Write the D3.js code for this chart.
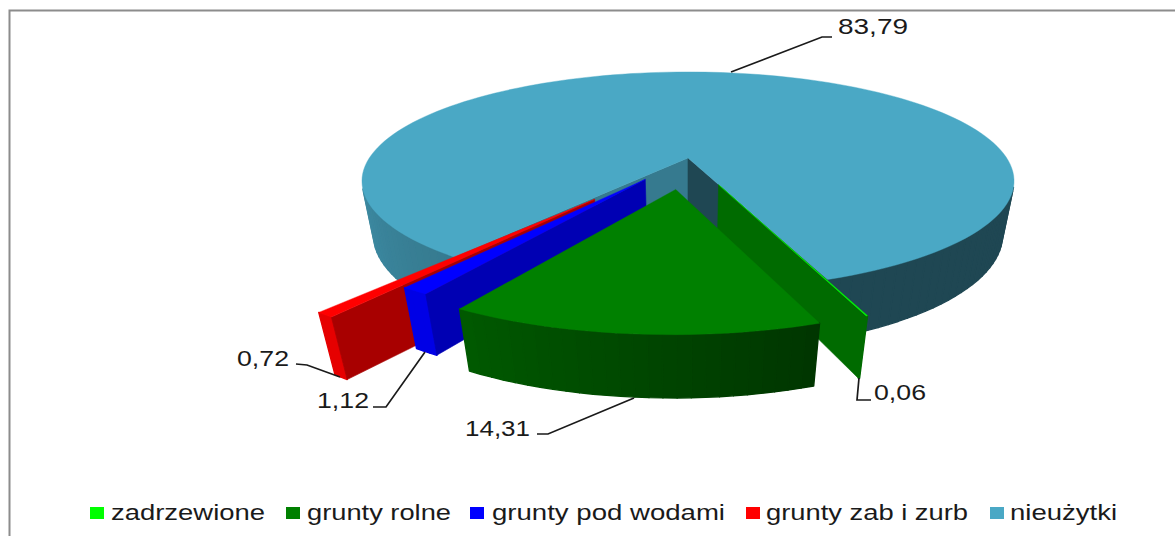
<!DOCTYPE html>
<html><head><meta charset="utf-8">
<script src="https://cdn.jsdelivr.net/npm/d3@7"></script>
<style>html,body{margin:0;padding:0;background:#fff}svg{display:block}text{font-family:"Liberation Sans",Arial,sans-serif;fill:#1a1a1a}</style>
</head><body><svg id="c" width="1175" height="536"></svg>
<script>
// ---- data ----
const categories = ["zadrzewione","grunty rolne","grunty pod wodami","grunty zab i zurb","nieużytki"];
const values = [0.06,14.31,1.12,0.72,83.79];
const valueLabels = ["0,06","14,31","1,12","0,72","83,79"];
const colors = ["#00ff00","#008000","#0000ff","#ff0000","#4aa8c5"];

// ---- layout / style ----
const W=1175,H=536;
const startDeg=159.4;
const explode=[0.26,0.285,0.235,0.455,0];
const radiusV=[0.965,0.965,0.965,0.965,1];
const radiusU=[0.955,0.992,1.0,1.0,1];
const shiftU=[0,-0.0095,0,0,0];
const rimFixed=[null,null,0.9,0.9,null];
const wallFixed=[null,null,0.7,0.66,null];
const drawOrder=[4,0,3,2,1];
const cam={cx:688,cy:158,R:318.7,B:104.2,p:0.211,Hh:55,q:0.035};
const legendLayout=[[90,111,265],[286,307,451],[470,492,725],[746,766,968],[990,1010,1117]];
const labelLayout=[
 {x:874,y:392,w:52,line:[[859,378],[857,400],[871,400]]},
 {x:465,y:428,w:65,line:[[634,398],[548,434],[537,434]]},
 {x:317,y:400,w:52,line:[[425,352],[386,407],[373,407]]},
 {x:237,y:358,w:52,line:[[340,377],[307,365],[296,364]]},
 {x:838,y:26,w:70,line:[[731,72],[822,37],[832,37]]}
];

const svg=d3.select("#c");
svg.append("path").attr("d",`M9.5,${H}V10.5H${W}`).attr("fill","none").attr("stroke","#8c8c8c").attr("stroke-width",2);

const shade=d3.scaleLinear().domain([160,215,270]).range([0.42,0.72,0.85]).clamp(true);
function project(u,v,h){
  const w=1-cam.p*v+cam.q*h;
  return [cam.cx+cam.R*u/w, cam.cy+(cam.B*v+cam.Hh*h)/w];
}
const pie=d3.pie().sort(null).startAngle(startDeg*Math.PI/180).endAngle((startDeg+360)*Math.PI/180);
const arcs=pie(values);
const line=d3.line();
function area(pts){let s=0;pts.forEach((p,i)=>{const n=pts[(i+1)%pts.length];s+=p[0]*n[1]-n[0]*p[1];});return s;}
function tint(hex,f){const c=d3.rgb(hex);return d3.rgb(c.r*f,c.g*f,c.b*f).formatHex();}

drawOrder.forEach(i=>{
  const a=arcs[i],mid=(a.startAngle+a.endAngle)/2,e=explode[i];
  const ox=Math.sin(mid)*e+shiftU[i],oy=-Math.cos(mid)*e;
  const P=(ang,h)=>project(ox+radiusU[i]*Math.sin(ang),oy-radiusV[i]*Math.cos(ang),h);
  const A=h=>project(ox,oy,h);
  const g=svg.append("g");
  const face=(pts,col,sw)=>{ if(area(pts)<0) g.append("path").attr("d",line(pts)+"Z").attr("fill",col).attr("stroke",col).attr("stroke-width",sw).attr("stroke-linejoin","round"); };
  const deg=x=>((x*180/Math.PI)%360);
  const wallShade=x=>wallFixed[i]!=null?wallFixed[i]:shade(deg(x));
  const n=Math.max(2,Math.ceil((a.endAngle-a.startAngle)/(Math.PI/90)));
  const st=d3.range(n+1).map(k=>a.startAngle+(a.endAngle-a.startAngle)*k/n);
  // rim
  d3.pairs(st).forEach(([s0,s1])=>{
    const f=rimFixed[i]!=null?rimFixed[i]:shade(deg((s0+s1)/2));
    face([P(s0,0),P(s1,0),P(s1,1),P(s0,1)],tint(colors[i],f),1.4);
  });
  // radial walls
  face([A(0),P(a.startAngle,0),P(a.startAngle,1),A(1)],tint(colors[i],wallShade(a.startAngle)),0.6);
  face([P(a.endAngle,0),A(0),A(1),P(a.endAngle,1)],tint(colors[i],wallShade(a.endAngle)),0.6);
  // top
  const top=[A(0),...st.map(s=>P(s,0))];
  g.append("path").attr("d",line(top)+"Z").attr("fill",colors[i]).attr("stroke",colors[i]).attr("stroke-width",0.4);
});

// leaders + value labels
valueLabels.forEach((t,i)=>{
  const l=labelLayout[i];
  svg.append("path").attr("d",line(l.line)).attr("fill","none").attr("stroke","#1a1a1a").attr("stroke-width",1.7);
  svg.append("text").attr("x",l.x).attr("y",l.y+8).attr("font-size",22).attr("textLength",l.w).attr("lengthAdjust","spacingAndGlyphs").text(t);
});

// legend
categories.forEach((t,i)=>{
  const l=legendLayout[i];
  svg.append("rect").attr("x",l[0]).attr("y",507).attr("width",14).attr("height",12).attr("fill",colors[i]);
  svg.append("text").attr("x",l[1]).attr("y",520).attr("font-size",22).attr("textLength",l[2]-l[1]).attr("lengthAdjust","spacingAndGlyphs").text(t);
});
</script></body></html>
